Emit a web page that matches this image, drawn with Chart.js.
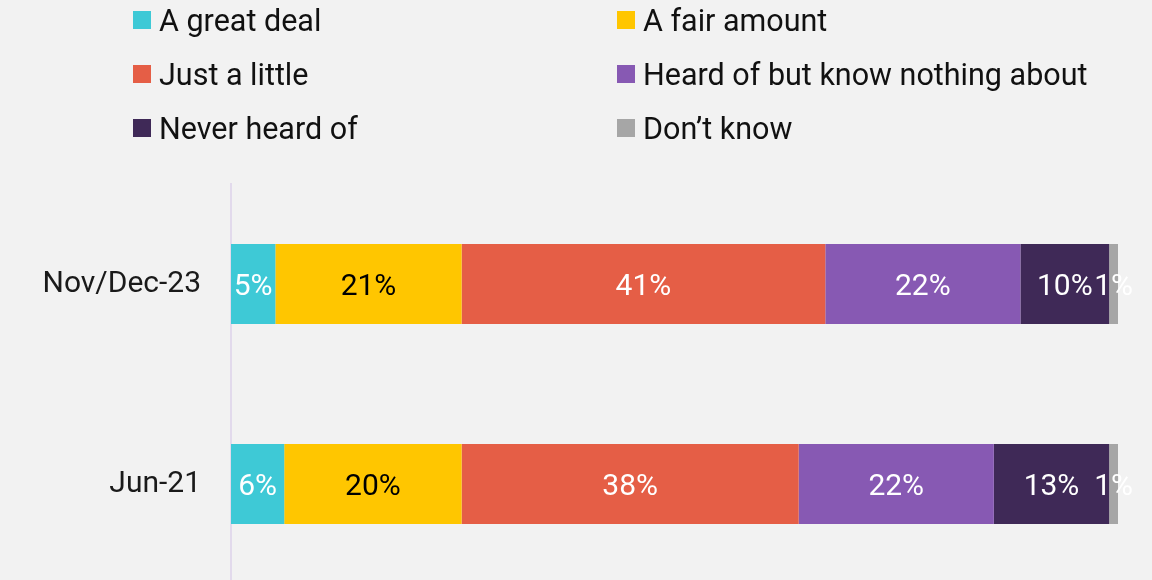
<!DOCTYPE html>
<html lang="en">
<head>
  <meta charset="UTF-8">
  <title>Awareness</title>
  <style>
    * { box-sizing: border-box; }
    body { margin: 0; background: #f2f2f2; overflow: hidden; font-family: Roboto, sans-serif; }
    .wrap { position: relative; width: 1152px; height: 632px; }
    #legend {
      position: absolute; left: 133px; top: -7px;
      display: grid; grid-template-columns: 484px 484px; grid-auto-rows: 54px;
      font-size: 30.5px; color: #111;
    }
    .item { display: flex; align-items: center; }
    .box { width: 18px; height: 18px; margin-right: 8px; }
  </style>
</head>
<body>
  <div class="wrap">
    <canvas id="chart"></canvas>
    <div id="legend"></div>
  </div>

  <script src="https://cdn.jsdelivr.net/npm/chart.js"></script>
  <script>
    // data
    const waves = ['Nov/Dec-23', 'Jun-21'];
    const answers = ['A great deal', 'A fair amount', 'Just a little',
                     'Heard of but know nothing about', 'Never heard of', 'Don\u2019t know'];
    const greatDeal  = [5, 6];
    const fairAmount = [21, 20];
    const justLittle = [41, 38];
    const heardOf    = [22, 22];
    const neverHeard = [10, 13];
    const dontKnow   = [1, 1];

    const colours = ['#3ec9d6', '#ffc600', '#e55e46', '#8759b3', '#3f2957', '#a6a6a6'];
    const labelColours = ['#fff', '#000', '#fff', '#fff', '#fff', '#fff'];
    const series = [greatDeal, fairAmount, justLittle, heardOf, neverHeard, dontKnow];

    // labels in the middle of each segment
    const segmentLabels = {
      id: 'segmentLabels',
      afterDatasetsDraw(chart) {
        const ctx = chart.ctx;
        ctx.save();
        ctx.font = '30px Roboto, sans-serif';
        ctx.textAlign = 'center';
        ctx.textBaseline = 'middle';
        chart.data.datasets.forEach((ds, i) => {
          chart.getDatasetMeta(i).data.forEach((bar, j) => {
            const x = (bar.x + bar.base) / 2;
            ctx.fillStyle = labelColours[i];
            ctx.fillText(ds.data[j] + '%', x, bar.y + 3);
          });
        });
        ctx.restore();
      }
    };

    const chart = new Chart(document.getElementById('chart'), {
      type: 'bar',
      data: {
        labels: waves,
        datasets: series.map((d, i) => ({
          label: answers[i],
          data: d,
          backgroundColor: colours[i],
          barPercentage: 0.8,
          categoryPercentage: 0.5
        }))
      },
      options: {
        indexAxis: 'y',
        responsive: true,
        maintainAspectRatio: false,
        animation: false,
        layout: { padding: { top: 184, right: 34, bottom: 0, left: 0 } },
        plugins: { legend: { display: false }, tooltip: { enabled: false } },
        scales: {
          x: { stacked: true, min: 0, max: 100, display: false },
          y: {
            stacked: true,
            grid: { display: false, drawTicks: false },
            border: { display: true, color: '#e2daec', width: 2 },
            ticks: { padding: 30, color: '#1a1a1a', font: { family: 'Roboto', size: 30 } },
            afterFit(scale) { scale.width = 231; }
          }
        }
      },
      plugins: [segmentLabels]
    });

    // two-column legend, filled row by row
    const legend = document.getElementById('legend');
    answers.forEach((a, i) => {
      const item = document.createElement('div');
      item.className = 'item';
      item.innerHTML = '<span class="box" style="background:' + colours[i] + '"></span><span>' + a + '</span>';
      legend.appendChild(item);
    });
  </script>
</body>
</html>
